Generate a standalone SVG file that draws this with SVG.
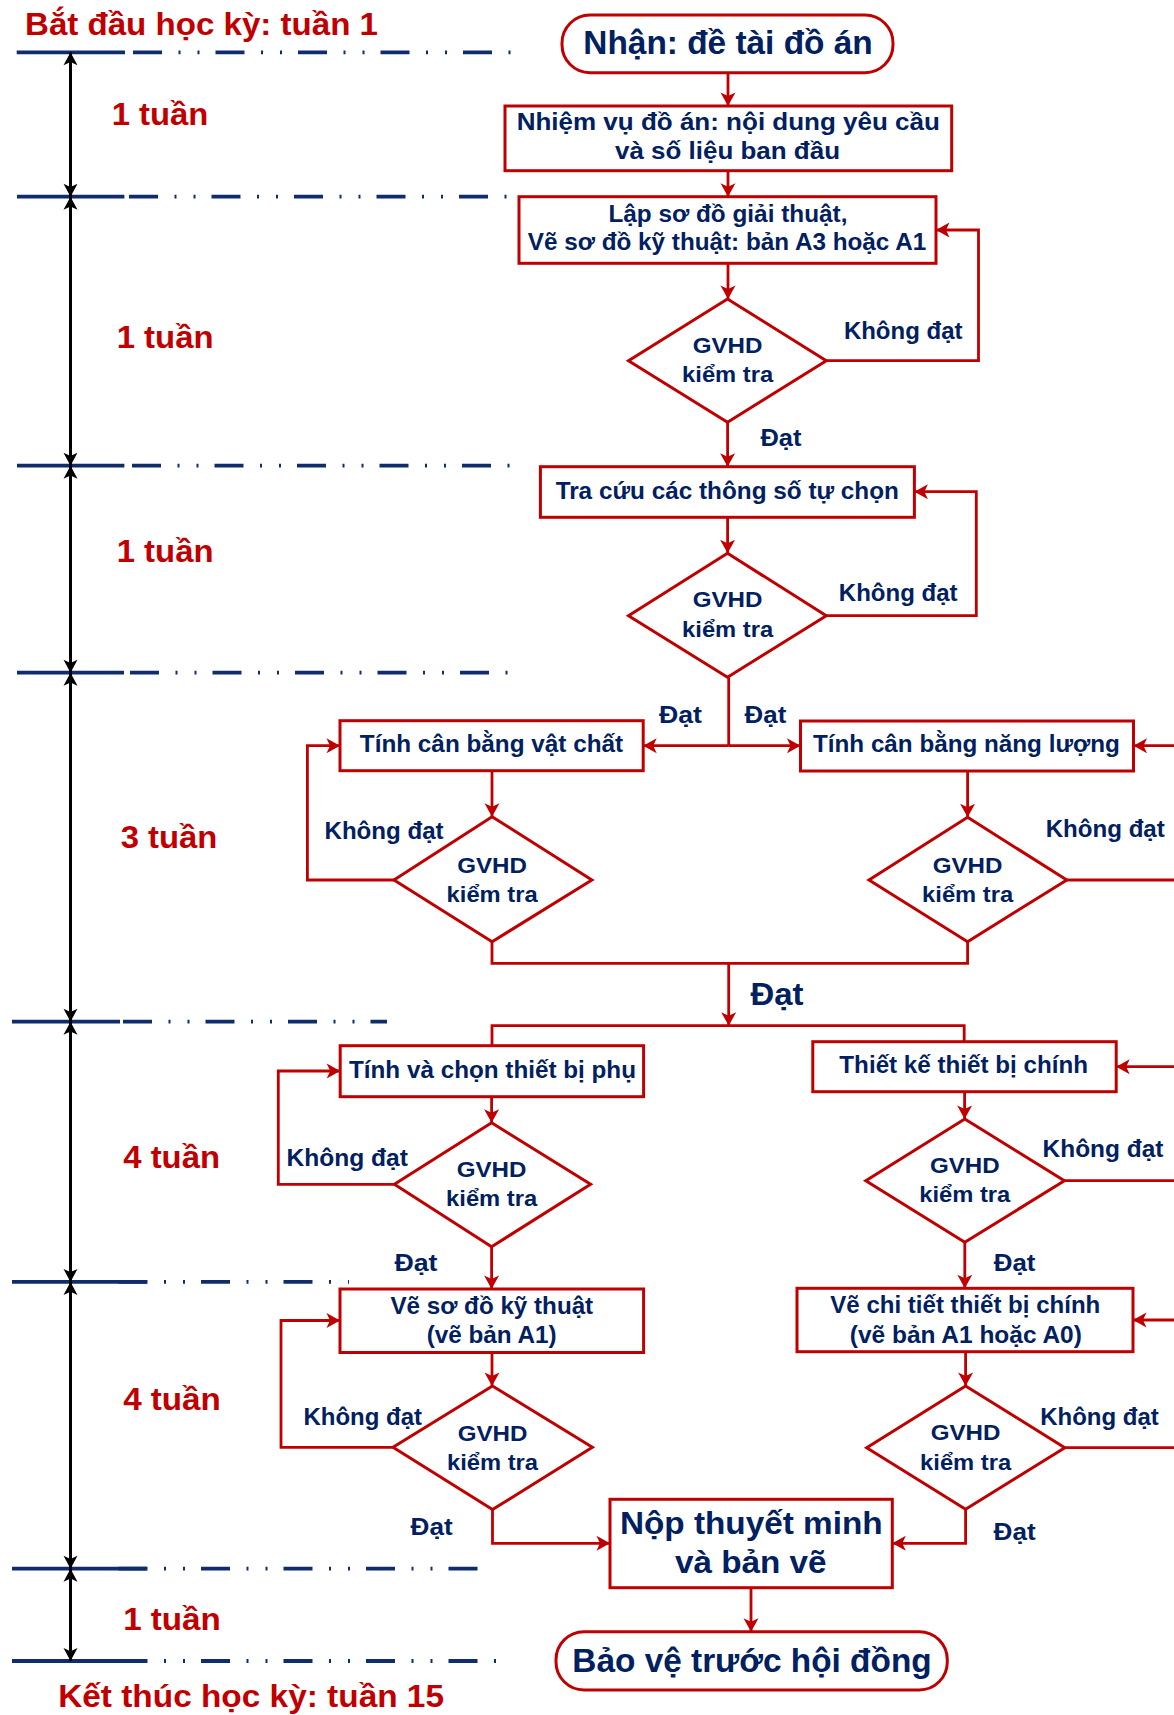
<svg xmlns="http://www.w3.org/2000/svg" width="1174" height="1715" viewBox="0 0 1174 1715">
<style>
.box{fill:#fff;stroke:#c00000;stroke-width:3}
.c{fill:none;stroke:#c00000;stroke-width:2.8}
.ca{fill:none;stroke:#c00000;stroke-width:2.8;marker-end:url(#ar)}
.t{font-family:"Liberation Sans",Arial,sans-serif;font-weight:bold;fill:#002060;text-anchor:middle}
.l{font-family:"Liberation Sans",Arial,sans-serif;font-weight:bold;fill:#002060}
.h{font-family:"Liberation Sans",Arial,sans-serif;font-weight:bold;fill:#c00000;font-size:32px}
.g{stroke:#0f2d6c;stroke-width:3.8;fill:none}
.gd{stroke:#0f2d6c;stroke-width:3.8;fill:none;stroke-dasharray:29 16.5 2 17 2 16}
.ax{stroke:#000;stroke-width:3;fill:none;marker-start:url(#ab);marker-end:url(#ab)}
</style>
<defs>
<marker id="ar" markerUnits="userSpaceOnUse" markerWidth="15" markerHeight="15" refX="13.5" refY="7.5" orient="auto" overflow="visible"><path d="M0,0 L13.5,7.5 L0,15 L3.5,7.5 z" fill="#c00000"/></marker>
<marker id="ab" markerUnits="userSpaceOnUse" markerWidth="14" markerHeight="14" refX="13" refY="7" orient="auto-start-reverse" overflow="visible"><path d="M0,0 L13,7 L0,14 L3.2,7 z" fill="#000"/></marker>
</defs>
<rect width="1174" height="1715" fill="#fff"/>

<g id="timeline">
<line class="g" x1="16.7" y1="52.3" x2="125" y2="52.3"/><line class="gd" x1="133" y1="52.3" x2="511" y2="52.3"/>
<line class="g" x1="17" y1="196.7" x2="124.4" y2="196.7"/><line class="gd" x1="129" y1="196.7" x2="507" y2="196.7"/>
<line class="g" x1="17" y1="465.7" x2="124.4" y2="465.7"/><line class="gd" x1="132" y1="465.7" x2="510" y2="465.7"/>
<line class="g" x1="17" y1="672.7" x2="124" y2="672.7"/><line class="gd" x1="130" y1="672.7" x2="508" y2="672.7"/>
<line class="g" x1="12" y1="1021.7" x2="120" y2="1021.7"/><line class="gd" x1="123" y1="1021.7" x2="387" y2="1021.7"/>
<line class="g" x1="12" y1="1281.9" x2="146.6" y2="1281.9"/><line class="gd" x1="118.5" y1="1281.9" x2="349" y2="1281.9"/>
<line class="g" x1="12" y1="1568.7" x2="146.6" y2="1568.7"/><line class="gd" x1="118.5" y1="1568.7" x2="477.5" y2="1568.7"/>
<line class="g" x1="12" y1="1661" x2="146.6" y2="1661"/><line class="gd" x1="118.5" y1="1661" x2="496" y2="1661"/>
<line class="ax" x1="70.5" y1="52.3" x2="70.5" y2="196.7"/>
<line class="ax" x1="70.5" y1="196.7" x2="70.5" y2="465.7"/>
<line class="ax" x1="70.5" y1="465.7" x2="70.5" y2="672.7"/>
<line class="ax" x1="70.5" y1="672.7" x2="70.5" y2="1021.7"/>
<line class="ax" x1="70.5" y1="1021.7" x2="70.5" y2="1281.9"/>
<line class="ax" x1="70.5" y1="1281.9" x2="70.5" y2="1568.7"/>
<line class="ax" x1="70.5" y1="1568.7" x2="70.5" y2="1661"/>
<text class="h" x="25" y="35" font-size="31" textLength="353" lengthAdjust="spacingAndGlyphs">Bắt đầu học kỳ: tuần 1</text>
<text class="h" x="111.7" y="124.5" textLength="96.6" lengthAdjust="spacingAndGlyphs">1 tuần</text>
<text class="h" x="116.7" y="347.7" textLength="96.8" lengthAdjust="spacingAndGlyphs">1 tuần</text>
<text class="h" x="116.7" y="561.7" textLength="96.8" lengthAdjust="spacingAndGlyphs">1 tuần</text>
<text class="h" x="120.7" y="848.3" textLength="96.6" lengthAdjust="spacingAndGlyphs">3 tuần</text>
<text class="h" x="123.3" y="1168.3" textLength="96.7" lengthAdjust="spacingAndGlyphs">4 tuần</text>
<text class="h" x="123.2" y="1409.5" textLength="97.6" lengthAdjust="spacingAndGlyphs">4 tuần</text>
<text class="h" x="123.2" y="1630.4" textLength="97.6" lengthAdjust="spacingAndGlyphs">1 tuần</text>
<text class="h" x="58.2" y="1706.5" textLength="385.8" lengthAdjust="spacingAndGlyphs">Kết thúc học kỳ: tuần 15</text>
</g>

<g id="connectors">
<path class="ca" d="M728,72.7 V106"/>
<path class="ca" d="M728,170.7 V196.7"/>
<path class="ca" d="M728,263.3 V299"/>
<path class="ca" d="M826.3,360.7 H978.5 V230 H936"/>
<path class="ca" d="M727.6,422.3 V466.7"/>
<path class="ca" d="M727.6,517.3 V553.3"/>
<path class="ca" d="M826.3,615.7 H976.3 V491.7 H914.4"/>
<path class="c" d="M728.7,677.3 V745.7"/>
<path class="ca" d="M728.7,745.7 H643.2"/>
<path class="ca" d="M728.7,745.7 H800.5"/>
<path class="ca" d="M1174,745.7 H1133.5"/>
<path class="ca" d="M492,770.7 V816.7"/>
<path class="ca" d="M967.6,771 V817.3"/>
<path class="ca" d="M394,880 H307.4 V745.7 H340"/>
<path class="c" d="M1066.8,880 H1174"/>
<path class="c" d="M492,941.7 V963.3 H967.6 V941.7"/>
<path class="ca" d="M728.7,963.3 V1025.7"/>
<path class="c" d="M492,1045.7 V1025.7 H964.2 V1041.7"/>
<path class="ca" d="M1174,1066.7 H1116.2"/>
<path class="ca" d="M491.6,1096.7 V1122.7"/>
<path class="ca" d="M964.6,1091.7 V1119"/>
<path class="ca" d="M394.4,1184.3 H278.3 V1071 H340.2"/>
<path class="c" d="M1064.4,1180.7 H1174"/>
<path class="ca" d="M491.6,1246.7 V1289"/>
<path class="ca" d="M964.8,1242.3 V1288.3"/>
<path class="ca" d="M1174,1320 H1133"/>
<path class="ca" d="M492,1352.5 V1386"/>
<path class="ca" d="M965.6,1351.7 V1386"/>
<path class="ca" d="M393,1447.3 H281 V1320.5 H340"/>
<path class="c" d="M1064.8,1447.7 H1174"/>
<path class="ca" d="M492.5,1509.6 V1543.3 H610"/>
<path class="ca" d="M965.6,1509.3 V1543.3 H892.3"/>
<path class="ca" d="M751,1587.7 V1631.7"/>
<g id="edge-labels">
<text class="l" x="843.9" y="339.3" font-size="23.5" textLength="118.6" lengthAdjust="spacingAndGlyphs">Không đạt</text>
<text class="l" x="760.5" y="445.7" font-size="23.5" textLength="41" lengthAdjust="spacingAndGlyphs">Đạt</text>
<text class="l" x="838.8" y="600.7" font-size="23.5" textLength="118.7" lengthAdjust="spacingAndGlyphs">Không đạt</text>
<text class="l" x="659" y="723.3" font-size="23.5" textLength="43" lengthAdjust="spacingAndGlyphs">Đạt</text>
<text class="l" x="744.6" y="723.3" font-size="23.5" textLength="41.7" lengthAdjust="spacingAndGlyphs">Đạt</text>
<text class="l" x="324.5" y="839.3" font-size="23.5" textLength="119.1" lengthAdjust="spacingAndGlyphs">Không đạt</text>
<text class="l" x="1045.7" y="837.3" font-size="23.5" textLength="119.1" lengthAdjust="spacingAndGlyphs">Không đạt</text>
<text class="l" x="750.4" y="1005" font-size="32" textLength="53" lengthAdjust="spacingAndGlyphs">Đạt</text>
<text class="l" x="286.5" y="1165.7" font-size="23.5" textLength="121.4" lengthAdjust="spacingAndGlyphs">Không đạt</text>
<text class="l" x="1042.6" y="1156.7" font-size="23.5" textLength="120.8" lengthAdjust="spacingAndGlyphs">Không đạt</text>
<text class="l" x="394.4" y="1270.7" font-size="23.5" textLength="43" lengthAdjust="spacingAndGlyphs">Đạt</text>
<text class="l" x="993.7" y="1270.7" font-size="23.5" textLength="41.8" lengthAdjust="spacingAndGlyphs">Đạt</text>
<text class="l" x="303.5" y="1424.6" font-size="23.5" textLength="118.5" lengthAdjust="spacingAndGlyphs">Không đạt</text>
<text class="l" x="1040.2" y="1425" font-size="23.5" textLength="118.6" lengthAdjust="spacingAndGlyphs">Không đạt</text>
<text class="l" x="410.6" y="1534.9" font-size="23.5" textLength="42.1" lengthAdjust="spacingAndGlyphs">Đạt</text>
<text class="l" x="993.6" y="1540" font-size="23.5" textLength="42.1" lengthAdjust="spacingAndGlyphs">Đạt</text>
</g>
</g>

<g id="n-nhan-de-tai">
<rect class="box" x="562" y="15" width="331" height="57.7" rx="28"/>
<text class="t" x="728" y="54" font-size="32.5" textLength="289.4" lengthAdjust="spacingAndGlyphs">Nhận: đề tài đồ án</text>
</g>
<g id="n-nhiem-vu">
<rect class="box" x="505" y="106" width="446.7" height="64.7"/>
<text class="t" x="728.3" y="130" font-size="24" textLength="423.3" lengthAdjust="spacingAndGlyphs">Nhiệm vụ đồ án: nội dung yêu cầu</text>
<text class="t" x="727.5" y="159.3" font-size="24" textLength="225" lengthAdjust="spacingAndGlyphs">và số liệu ban đầu</text>
</g>
<g id="n-lap-so-do">
<rect class="box" x="519" y="196.7" width="417" height="66.6"/>
<text class="t" x="727.9" y="221.7" font-size="23.5" textLength="239" lengthAdjust="spacingAndGlyphs">Lập sơ đồ giải thuật,</text>
<text class="t" x="727" y="250" font-size="23.5" textLength="398.3" lengthAdjust="spacingAndGlyphs">Vẽ sơ đồ kỹ thuật: bản A3 hoặc A1</text>
</g>
<g id="d-kiem-tra-1">
<polygon class="box" points="727.5,299 826.3,360.7 727.5,422.3 628.5,360.7"/>
<text class="t" x="727.6" y="352.7" font-size="22.5" textLength="69.7" lengthAdjust="spacingAndGlyphs">GVHD</text>
<text class="t" x="727.6" y="381.7" font-size="22.5" textLength="91" lengthAdjust="spacingAndGlyphs">kiểm tra</text>
</g>
<g id="n-tra-cuu">
<rect class="box" x="540.4" y="466.7" width="374" height="50.6"/>
<text class="t" x="727.3" y="499" font-size="23.5" textLength="343.3" lengthAdjust="spacingAndGlyphs">Tra cứu các thông số tự chọn</text>
</g>
<g id="d-kiem-tra-2">
<polygon class="box" points="727.5,553.3 826.3,615.7 727.5,677.3 628.5,615.7"/>
<text class="t" x="727.6" y="606.7" font-size="22.5" textLength="69.7" lengthAdjust="spacingAndGlyphs">GVHD</text>
<text class="t" x="727.6" y="637.3" font-size="22.5" textLength="91" lengthAdjust="spacingAndGlyphs">kiểm tra</text>
</g>
<g id="n-can-bang-vat-chat">
<rect class="box" x="340" y="720.7" width="303.2" height="50"/>
<text class="t" x="491.5" y="751.7" font-size="23.5" textLength="263.4" lengthAdjust="spacingAndGlyphs">Tính cân bằng vật chất</text>
</g>
<g id="n-can-bang-nang-luong">
<rect class="box" x="800.5" y="721" width="333" height="50"/>
<text class="t" x="966.4" y="751.7" font-size="23.5" textLength="306.8" lengthAdjust="spacingAndGlyphs">Tính cân bằng năng lượng</text>
</g>
<g id="d-kiem-tra-3">
<polygon class="box" points="492.1,816.7 591.9,880 492.1,941.7 394,880"/>
<text class="t" x="492.1" y="872.7" font-size="22.5" textLength="69.7" lengthAdjust="spacingAndGlyphs">GVHD</text>
<text class="t" x="492.1" y="901.7" font-size="22.5" textLength="91" lengthAdjust="spacingAndGlyphs">kiểm tra</text>
</g>
<g id="d-kiem-tra-4">
<polygon class="box" points="967.6,817.3 1066.8,880 967.6,941.7 869,880"/>
<text class="t" x="967.6" y="872.7" font-size="22.5" textLength="69.7" lengthAdjust="spacingAndGlyphs">GVHD</text>
<text class="t" x="967.6" y="901.7" font-size="22.5" textLength="91" lengthAdjust="spacingAndGlyphs">kiểm tra</text>
</g>
<g id="n-thiet-bi-phu">
<rect class="box" x="340.2" y="1045.7" width="303.4" height="51"/>
<text class="t" x="492.5" y="1078.3" font-size="23.5" textLength="287" lengthAdjust="spacingAndGlyphs">Tính và chọn thiết bị phụ</text>
</g>
<g id="n-thiet-bi-chinh">
<rect class="box" x="812.8" y="1041.7" width="303.4" height="50"/>
<text class="t" x="963.7" y="1073.3" font-size="23.5" textLength="248.7" lengthAdjust="spacingAndGlyphs">Thiết kế thiết bị chính</text>
</g>
<g id="d-kiem-tra-5">
<polygon class="box" points="491.6,1122.7 590.6,1184.3 491.6,1246.7 394.4,1184.3"/>
<text class="t" x="491.6" y="1176.7" font-size="22.5" textLength="69.7" lengthAdjust="spacingAndGlyphs">GVHD</text>
<text class="t" x="491.6" y="1206" font-size="22.5" textLength="91" lengthAdjust="spacingAndGlyphs">kiểm tra</text>
</g>
<g id="d-kiem-tra-6">
<polygon class="box" points="964.8,1119 1064.4,1180.7 964.8,1242.3 865.8,1180.7"/>
<text class="t" x="964.8" y="1173.3" font-size="22.5" textLength="69.7" lengthAdjust="spacingAndGlyphs">GVHD</text>
<text class="t" x="964.8" y="1201.7" font-size="22.5" textLength="91" lengthAdjust="spacingAndGlyphs">kiểm tra</text>
</g>
<g id="n-ve-so-do-ky-thuat">
<rect class="box" x="340" y="1289" width="303.6" height="63.5"/>
<text class="t" x="491.8" y="1314" font-size="23.5" textLength="202.8" lengthAdjust="spacingAndGlyphs">Vẽ sơ đồ kỹ thuật</text>
<text class="t" x="491.7" y="1342.8" font-size="23.5" textLength="130" lengthAdjust="spacingAndGlyphs">(vẽ bản A1)</text>
</g>
<g id="n-ve-chi-tiet">
<rect class="box" x="797" y="1288.3" width="336" height="63.4"/>
<text class="t" x="965.3" y="1313.3" font-size="23.5" textLength="270" lengthAdjust="spacingAndGlyphs">Vẽ chi tiết thiết bị chính</text>
<text class="t" x="965.8" y="1342.7" font-size="23.5" textLength="232" lengthAdjust="spacingAndGlyphs">(vẽ bản A1 hoặc A0)</text>
</g>
<g id="d-kiem-tra-7">
<polygon class="box" points="492.5,1386 592.4,1447.3 492.5,1509.6 393,1447.3"/>
<text class="t" x="492.5" y="1441.2" font-size="22.5" textLength="69.7" lengthAdjust="spacingAndGlyphs">GVHD</text>
<text class="t" x="492.5" y="1470" font-size="22.5" textLength="91" lengthAdjust="spacingAndGlyphs">kiểm tra</text>
</g>
<g id="d-kiem-tra-8">
<polygon class="box" points="965.6,1386 1064.8,1447.7 965.6,1509.3 866.7,1447.7"/>
<text class="t" x="965.6" y="1440" font-size="22.5" textLength="69.7" lengthAdjust="spacingAndGlyphs">GVHD</text>
<text class="t" x="965.6" y="1470" font-size="22.5" textLength="91" lengthAdjust="spacingAndGlyphs">kiểm tra</text>
</g>
<g id="n-nop-thuyet-minh">
<rect class="box" x="610" y="1499.3" width="282.3" height="88.4"/>
<text class="t" x="751.3" y="1534" font-size="31.5" textLength="262.7" lengthAdjust="spacingAndGlyphs">Nộp thuyết minh</text>
<text class="t" x="750.8" y="1573.3" font-size="31.5" textLength="151.7" lengthAdjust="spacingAndGlyphs">và bản vẽ</text>
</g>
<g id="n-bao-ve">
<rect class="box" x="556" y="1631.7" width="391.3" height="58.3" rx="28"/>
<text class="t" x="752" y="1671.7" font-size="32.5" textLength="359.3" lengthAdjust="spacingAndGlyphs">Bảo vệ trước hội đồng</text>
</g>
</svg>
